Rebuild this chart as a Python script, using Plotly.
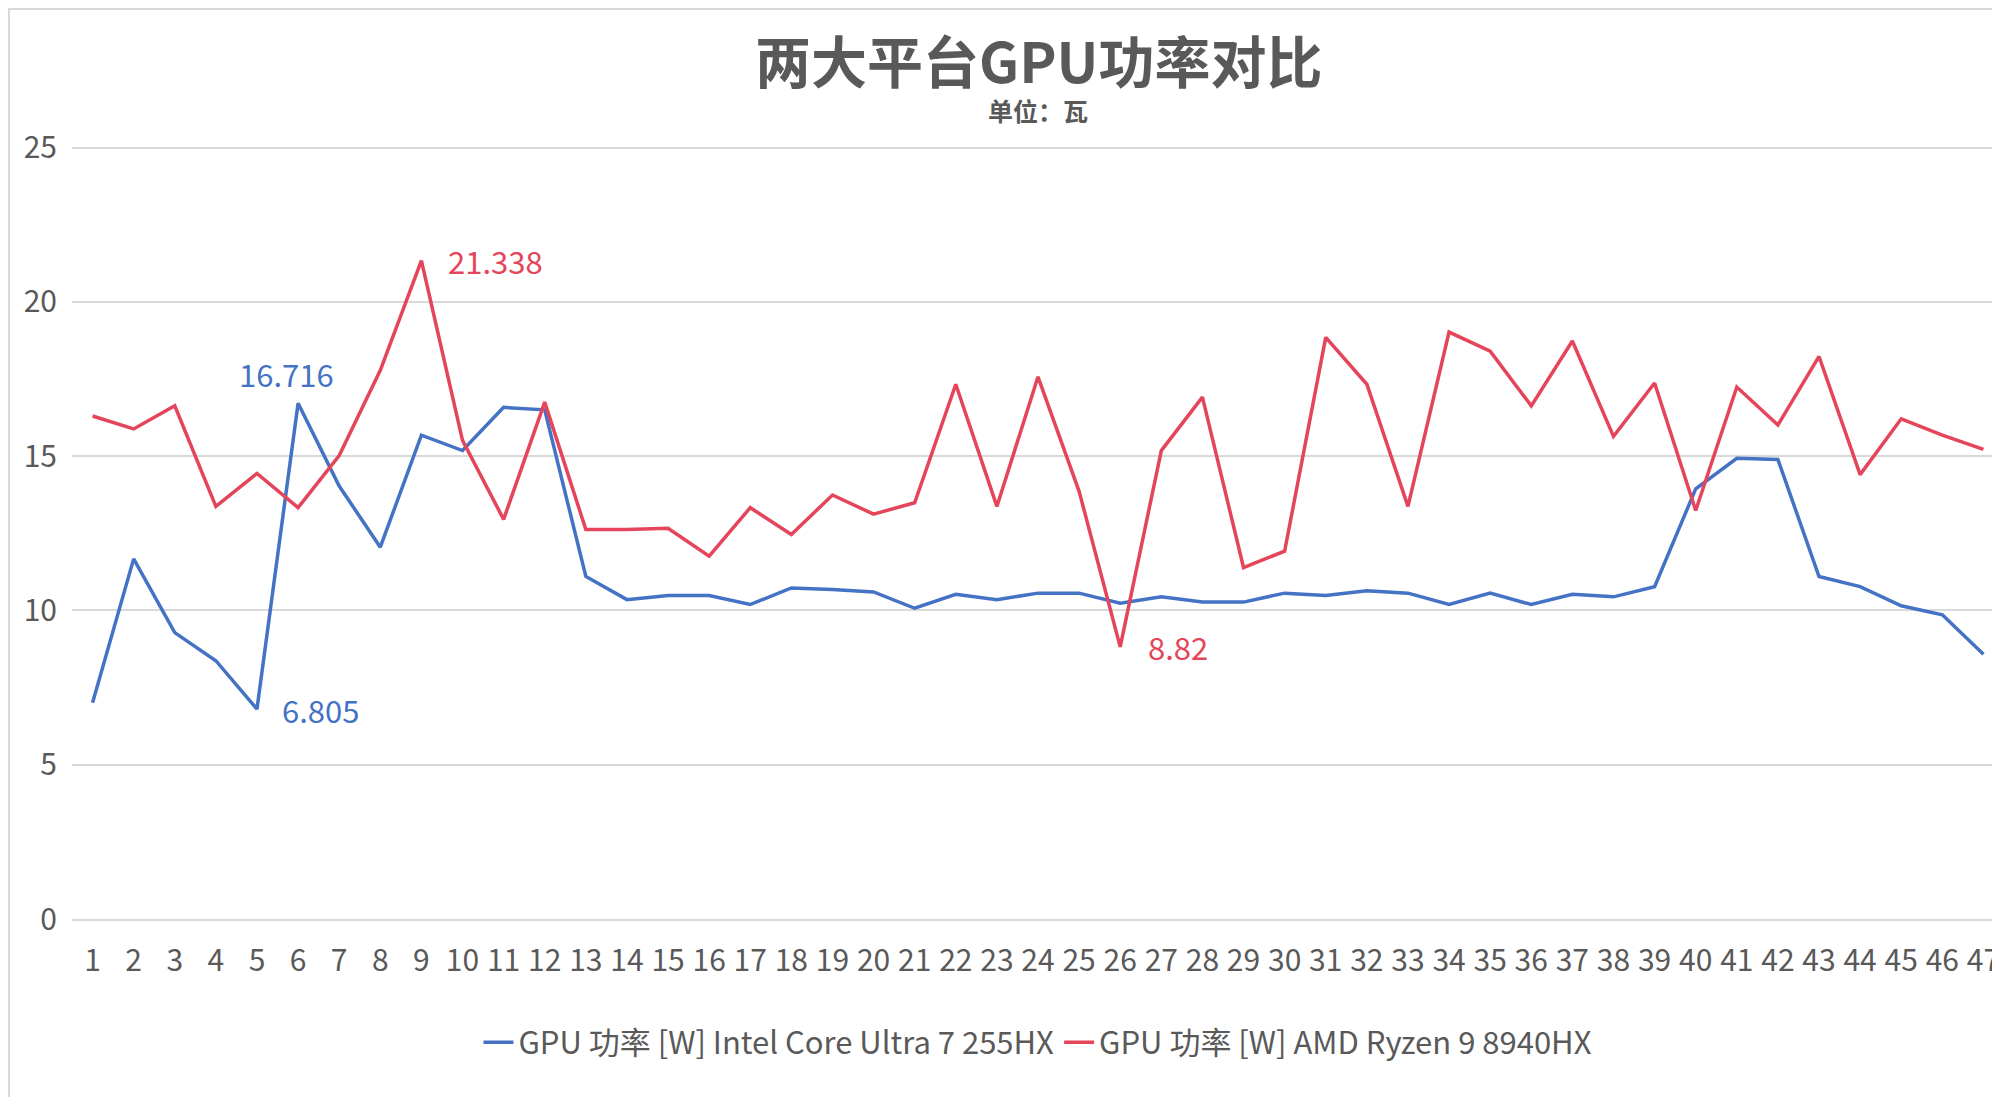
import plotly.graph_objects as go

x = list(range(1, 48))
intel = [7.01, 11.67, 9.28, 8.37, 6.805, 16.716, 14.03, 12.05, 15.68, 15.18, 16.58, 16.5, 11.1, 10.35, 10.48, 10.48,
         10.19, 10.73, 10.68, 10.6, 10.07, 10.52, 10.35, 10.56, 10.56, 10.23, 10.44, 10.27, 10.27, 10.56, 10.48,
         10.64, 10.56, 10.19, 10.56, 10.19, 10.52, 10.44, 10.77, 13.94, 14.93, 14.89, 11.1, 10.77, 10.15, 9.86, 8.58]
amd = [16.3, 15.88, 16.63, 13.37, 14.44, 13.33, 15.02, 17.78, 21.338, 15.51, 12.95, 16.75, 12.62, 12.62, 12.66, 11.76,
       13.33, 12.46, 13.74, 13.12, 13.49, 17.33, 13.37, 17.57, 13.86, 8.82, 15.18, 16.91, 11.39, 11.92, 18.85, 17.33,
       13.37, 19.02, 18.4, 16.63, 18.73, 15.64, 17.37, 13.24, 17.24, 16.01, 18.23, 14.4, 16.21, 15.68, 15.22]
names = ["GPU 功率 [W] Intel Core Ultra 7 255HX", "GPU 功率 [W] AMD Ryzen 9 8940HX"]
blue, red = "#4472C4", "#E5455A"
font = "Noto Sans CJK SC"

L, R, T, B = 64, 4, 138, 186
PH = 1097 - T - B
PW = 2000 - L - R

fig = go.Figure()
fig.add_trace(go.Scatter(x=x, y=intel, mode="lines", name=names[0], line=dict(color=blue, width=3.5)))
fig.add_trace(go.Scatter(x=x, y=amd, mode="lines", name=names[1], line=dict(color=red, width=3.5)))

def lab(i, arr, color, xs, ys):
    fig.add_annotation(x=x[i], y=arr[i], text=str(arr[i]), showarrow=False, xshift=xs, yshift=ys,
                       font=dict(size=31, color=color, family=font))
lab(5, intel, blue, -12, 30)
lab(4, intel, blue, 64, 0)
lab(8, amd, red, 74, 0)
lab(25, amd, red, 58, 0)

fig.add_annotation(xref="paper", yref="paper", x=0.5, y=1 + 88 / PH, text="<b>两大平台GPU功率对比</b>",
                   showarrow=False, yanchor="middle", font=dict(size=56, color="#595959", family=font))
fig.add_annotation(xref="paper", yref="paper", x=0.5, y=1 + 36 / PH, text="<b>单位：瓦</b>",
                   showarrow=False, yanchor="middle", font=dict(size=25, color="#595959", family=font))

fig.update_layout(
    width=2000, height=1097, paper_bgcolor="white", plot_bgcolor="white",
    margin=dict(l=L, r=R, t=T, b=B),
    font=dict(family=font, color="#595959", size=30),
    xaxis=dict(range=[0.5, 47.5], tickmode="array", tickvals=x, ticktext=[str(v) for v in x], showgrid=False,
               showline=True, linecolor="#D9D9D9", linewidth=1.5, ticks="", tickfont=dict(size=30),
               ticklabelstandoff=14),
    yaxis=dict(range=[0, 25.05], dtick=5, showgrid=True, gridcolor="#D9D9D9", gridwidth=1.5, zeroline=False,
               ticks="", tickfont=dict(size=30), ticklabelstandoff=14),
    legend=dict(orientation="h", x=0.5, xanchor="center", y=-0.125, yanchor="top", font=dict(size=31)),
    showlegend=True,
)
fig.add_shape(type="rect", xref="paper", yref="paper", x0=-(L - 1) / PW, x1=1 + (R - 1) / PW,
              y0=-(B - 1) / PH, y1=1 + (T - 1) / PH, line=dict(color="#D9D9D9", width=2))
fig.write_html("out.html")
